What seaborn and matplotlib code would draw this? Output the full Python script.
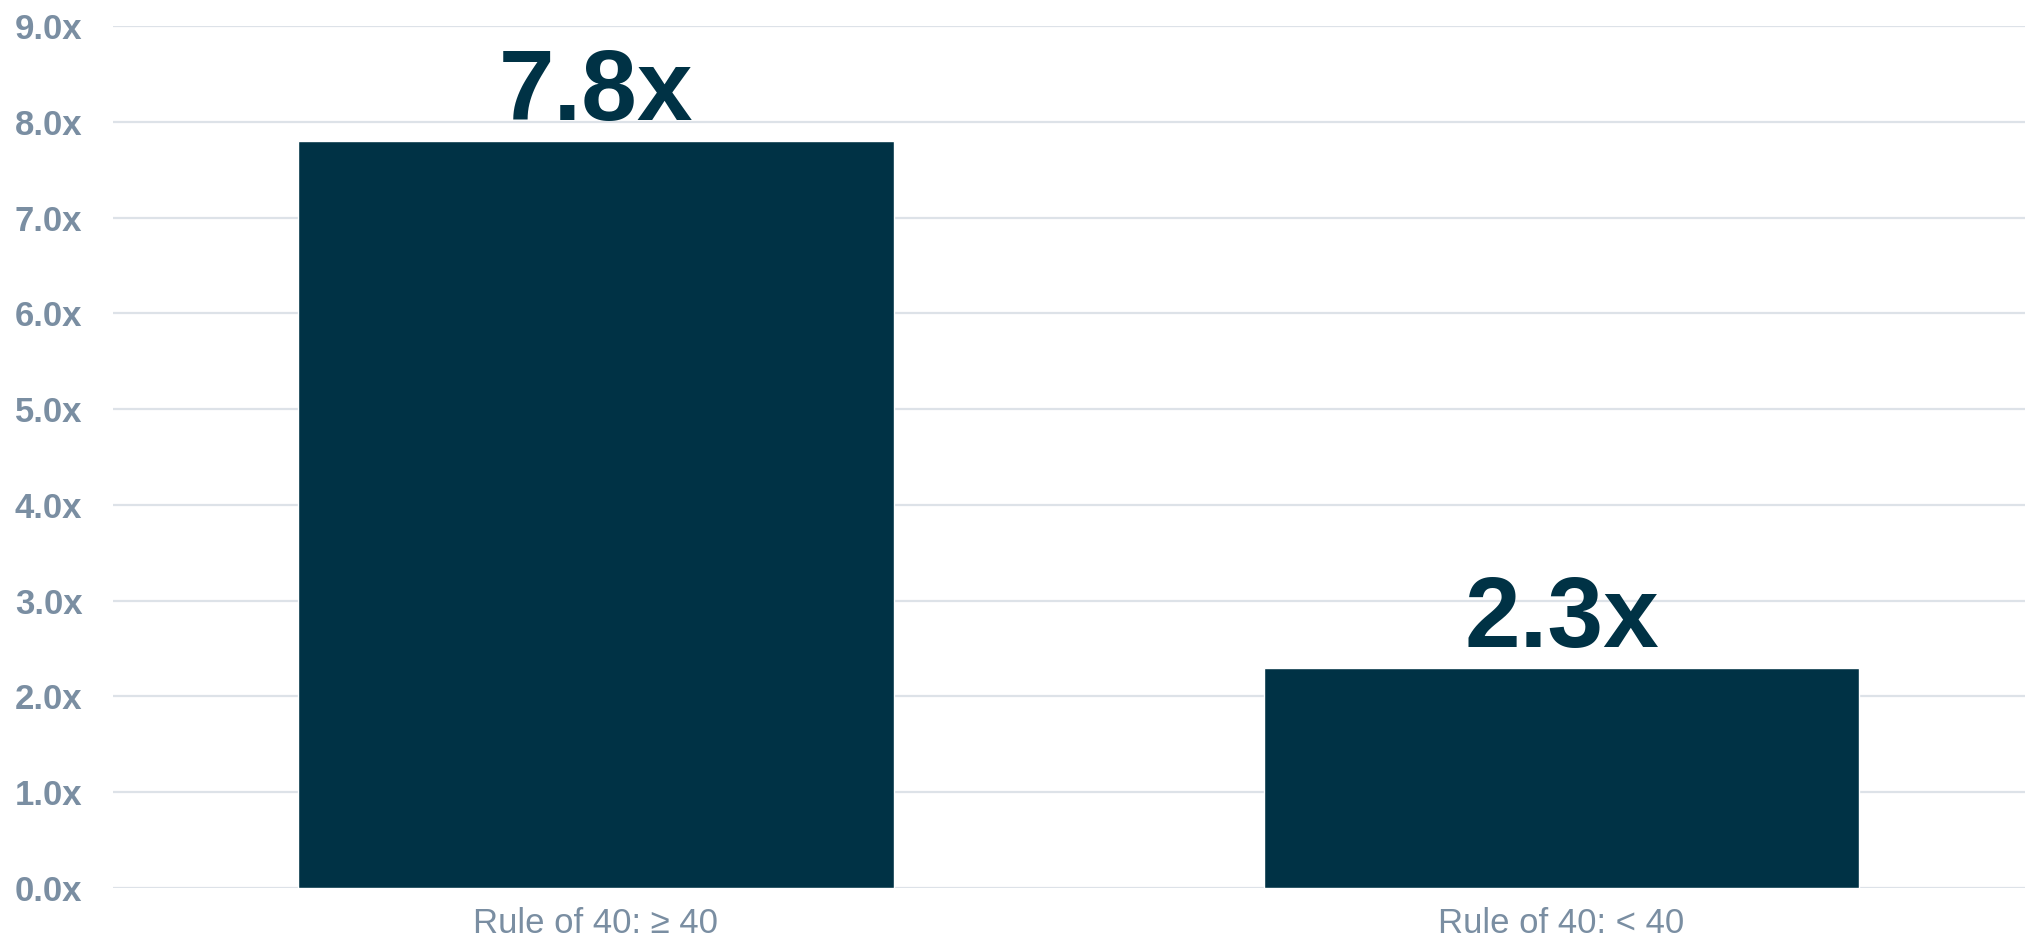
import matplotlib
matplotlib.use("Agg")
import pandas as pd
import matplotlib.pyplot as plt
import seaborn as sns
from matplotlib.ticker import FuncFormatter

# Data
categories = ["Rule of 40: \u2265 40", "Rule of 40: < 40"]
multiples = [7.8, 2.3]
value_labels = ["7.8x", "2.3x"]

df = pd.DataFrame({"group": categories, "multiple": multiples})

bar_color = "#003245"
tick_color = "#7a8ea2"
grid_color = "#dde2e8"

sns.set_theme(style="white")
plt.rcParams['font.family'] = ['Liberation Sans', 'DejaVu Sans']

fig = plt.figure(figsize=(20.25, 9.46), dpi=100)
ax = fig.add_axes([0.0558, 0.0613, 0.9442, 0.9112])

sns.barplot(data=df, x="group", y="multiple", color=bar_color, width=0.617,
            saturation=1, ax=ax, zorder=3)

ax.set_ylim(0, 9)
ax.set_xlim(-0.5, 1.48)
ax.set_yticks([i for i in range(10)])
ax.yaxis.set_major_formatter(FuncFormatter(lambda v, _: f"{v:.1f}x"))
ax.grid(axis="y", color=grid_color, linewidth=1.6, zorder=0)
ax.set_axisbelow(True)
for s in ax.spines.values():
    s.set_visible(False)

ax.set_xlabel("")
ax.set_ylabel("")
ax.tick_params(axis="y", length=0, pad=22, labelsize=25, labelcolor=tick_color)
ax.tick_params(axis="x", length=0, pad=14, labelsize=25, labelcolor=tick_color)
for lbl in ax.get_yticklabels():
    lbl.set_fontweight("bold")

# value labels above the bars
for i, (v, t) in enumerate(zip(multiples, value_labels)):
    ax.annotate(t, (i, v), xytext=(0, 15), textcoords="offset points",
                ha="center", va="baseline", fontsize=72, fontweight="bold",
                color=bar_color, zorder=5)

fig.savefig("out.png", dpi=100)
